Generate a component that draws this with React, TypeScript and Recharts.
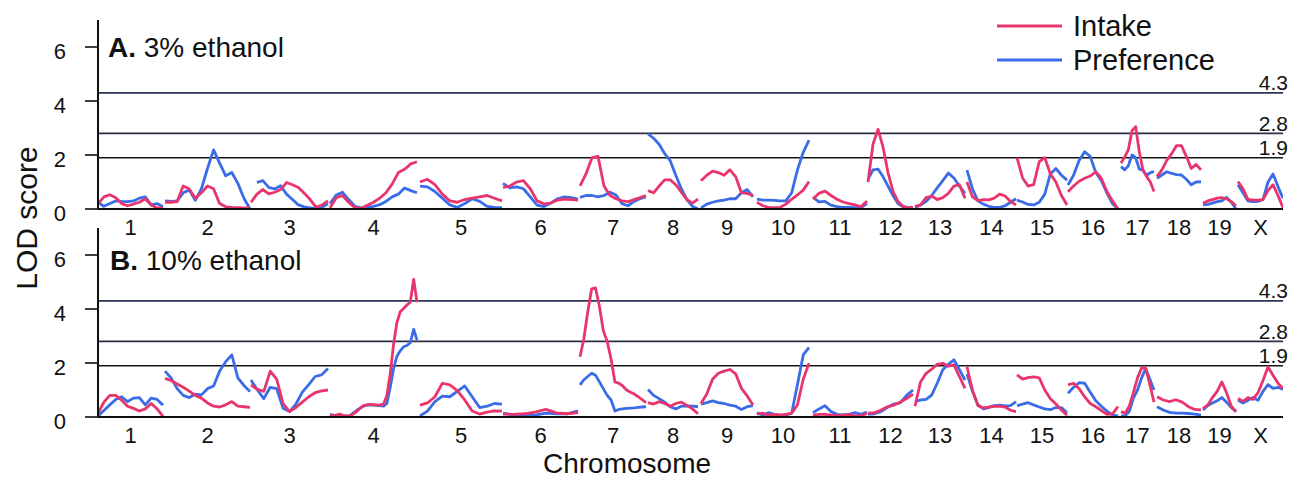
import React from "react";
import { LineChart, Line, XAxis, YAxis, ReferenceLine, Legend } from "recharts";

const FONT = '"Liberation Sans", Arial, Helvetica, sans-serif';
const RED = "#E8356B";
const BLUE = "#3A6CE8";
const INK = "#111111";

// chromosome layout along the genome axis (cM-like units)
const chromosomes = ["1", "2", "3", "4", "5", "6", "7", "8", "9", "10", "11", "12", "13", "14", "15", "16", "17", "18", "19", "X"];
const chromStart = [0, 67, 153, 232, 322, 405, 482, 550, 603, 659, 715, 770, 817, 869, 919, 970, 1023, 1059, 1105, 1140];
const chromEnd = [65, 152, 230, 319, 404, 480, 548, 600, 655, 711, 769, 815, 867, 918, 969, 1020, 1056, 1103, 1138, 1185];

const thresholds = [4.3, 2.8, 1.9];
const yTicks = [0, 2, 4, 6];

// LOD scores per chromosome, evenly spaced along each chromosome
const intake3 = [
  [0.19, 0.45, 0.53, 0.42, 0.2, 0.12, 0.18, 0.25, 0.38, 0.15, 0.04, 0.04],
  [0.25, 0.25, 0.27, 0.85, 0.74, 0.4, 0.6, 0.85, 0.75, 0.2, 0.08, 0.06, 0.05, 0.04, 0.04],
  [0.25, 0.55, 0.72, 0.56, 0.62, 0.72, 0.98, 0.9, 0.8, 0.58, 0.35, 0.06, 0.15, 0.3],
  [0.04, 0.42, 0.5, 0.25, 0.05, 0.02, 0.14, 0.25, 0.4, 0.6, 0.92, 1.35, 1.47, 1.67, 1.75],
  [1.0, 1.1, 0.9, 0.55, 0.3, 0.25, 0.35, 0.4, 0.45, 0.5, 0.4, 0.3],
  [0.8, 0.85, 1.0, 1.05, 0.75, 0.3, 0.19, 0.22, 0.33, 0.37, 0.35, 0.33],
  [0.86, 1.3, 1.9, 1.95, 0.85, 0.5, 0.38, 0.3, 0.27, 0.35, 0.42, 0.5],
  [0.68, 0.6, 0.85, 1.08, 1.08, 0.9, 0.62, 0.35, 0.22, 0.37],
  [1.05, 1.25, 1.4, 1.35, 1.25, 1.45, 1.2, 0.6, 0.58, 0.5],
  [0.25, 0.12, 0.06, 0.05, 0.06, 0.18, 0.36, 0.52, 0.7, 1.02],
  [0.37, 0.58, 0.66, 0.5, 0.36, 0.26, 0.2, 0.15, 0.08, 0.3],
  [1.0, 2.4, 2.95, 2.3, 1.35, 0.65, 0.28, 0.1, 0.05, 0.05],
  [0.09, 0.15, 0.42, 0.48, 0.35, 0.42, 0.58, 0.85, 0.9, 0.4],
  [1.0, 0.45, 0.31, 0.35, 0.34, 0.4, 0.55, 0.48, 0.28, 0.15],
  [1.9, 1.15, 0.85, 0.9, 1.75, 1.9, 1.3, 1.0, 0.5, 0.15],
  [0.64, 0.85, 1.03, 1.14, 1.22, 1.38, 1.14, 0.65, 0.3, 0.0],
  [1.7, 1.92, 2.19, 2.9, 3.05, 2.1, 1.44, 1.2, 1.0, 0.65],
  [1.2, 1.45, 1.8, 2.05, 2.35, 2.35, 1.95, 1.5, 1.65, 1.45],
  [0.21, 0.3, 0.35, 0.4, 0.42, 0.38, 0.28, 0.12],
  [1.02, 0.75, 0.36, 0.33, 0.33, 0.35, 0.68, 0.9, 0.5, 0.05],
];

const preference3 = [
  [0.25, 0.1, 0.2, 0.3, 0.28, 0.27, 0.3, 0.4, 0.45, 0.15, 0.2, 0.08],
  [0.3, 0.28, 0.3, 0.6, 0.7, 0.32, 0.75, 1.5, 2.19, 1.7, 1.23, 1.35, 0.95, 0.4, 0.0],
  [null, 0.98, 1.05, 0.8, 0.74, 0.86, 0.55, 0.35, 0.15, 0.08, 0.04, 0.03, 0.06, 0.2],
  [0.2, 0.52, 0.62, 0.35, 0.1, 0.04, 0.06, 0.1, 0.16, 0.28, 0.45, 0.55, 0.78, 0.68, 0.6],
  [0.85, 0.82, 0.65, 0.4, 0.15, 0.06, 0.2, 0.38, 0.28, 0.1, 0.06, 0.05],
  [0.95, 0.78, 0.82, 0.75, 0.45, 0.14, 0.09, 0.22, 0.38, 0.45, 0.42, 0.37],
  [0.43, 0.5, 0.5, 0.45, 0.5, 0.62, 0.52, 0.2, 0.12, 0.28, 0.38, 0.45],
  [2.78, 2.62, 2.4, 2.05, 1.79, 1.25, 0.75, 0.35, 0.1, 0.0],
  [0.04, 0.18, 0.25, 0.3, 0.33, 0.38, 0.38, 0.6, 0.72, 0.45],
  [0.37, 0.33, 0.33, 0.32, 0.3, 0.3, 0.6, 1.45, 2.1, 2.55],
  [0.43, 0.26, 0.28, 0.14, 0.09, 0.06, 0.06, 0.05, 0.05, 0.2],
  [1.1, 1.45, 1.48, 1.2, 0.85, 0.5, 0.2, 0.08, 0.05, 0.06],
  [0.06, 0.15, 0.28, 0.5, 0.78, 1.05, 1.33, 1.15, 0.85, 0.58],
  [1.44, 0.75, 0.3, 0.18, 0.1, 0.06, 0.06, 0.12, 0.25, 0.38],
  [0.33, 0.26, 0.17, 0.15, 0.25, 0.55, 1.3, 1.5, 1.25, 1.07],
  [0.89, 1.25, 1.8, 2.12, 1.95, 1.35, 1.05, 0.6, 0.2, 0.0],
  [1.57, 1.45, 1.6, 2.0, 1.9, 1.48, 1.44, 1.25, 1.35, 1.38],
  [1.14, 1.26, 1.38, 1.32, 1.27, 1.26, 1.1, 0.9, 1.0, 1.01],
  [0.15, 0.17, 0.22, 0.27, 0.3, 0.43, 0.25, 0.0],
  [0.9, 0.6, 0.3, 0.27, 0.28, 0.35, 1.0, 1.3, 0.83, 0.4],
];

const intake10 = [
  [0.14, 0.55, 0.8, 0.8, 0.62, 0.4, 0.32, 0.22, 0.3, 0.5, 0.3, 0.02],
  [1.43, 1.35, 1.22, 1.1, 0.96, 0.8, 0.7, 0.52, 0.4, 0.37, 0.45, 0.57, 0.4, 0.38, 0.36],
  [1.19, 1.02, 0.95, 1.7, 1.4, 0.5, 0.2, 0.35, 0.55, 0.75, 0.9, 0.97, 1.0],
  [0.07, 0.04, 0.08, 0.11, 0.05, 0.04, 0.05, 0.12, 0.2, 0.32, 0.42, 0.45, 0.47, 0.46, 0.44, 0.45, 0.48, 0.8, 1.6, 2.7, 3.5, 3.9, 4.02, 4.15, 4.25, 5.1, 4.25],
  [0.44, 0.52, 0.75, 1.25, 1.19, 0.98, 0.63, 0.22, 0.11, 0.18, 0.23, 0.22],
  [0.11, 0.1, 0.12, 0.18, 0.28, 0.15, 0.12, 0.16],
  [2.23, 2.9, 3.9, 4.75, 4.78, 4.1, 3.2, 2.8, 2.15, 1.3, 1.25, 1.15, 1.0, 0.92, 0.85, 0.75, 0.64, 0.53],
  [0.53, 0.48, 0.57, 0.5, 0.4, 0.5, 0.55, 0.43, 0.3, 0.12],
  [0.5, 0.85, 1.4, 1.62, 1.7, 1.76, 1.6, 1.06, 0.78, 0.44],
  [0.11, 0.14, 0.07, 0.1, 0.07, 0.1, 0.14, 0.45, 1.4, 1.99],
  [0.07, 0.1, 0.1, 0.07, 0.05, 0.07, 0.1, 0.04, 0.05, 0.13],
  [0.14, 0.16, 0.25, 0.38, 0.44, 0.55, 0.68, 0.85],
  [0.4, 1.3, 1.62, 1.77, 1.95, 1.99, 1.88, 1.93, 1.5, 1.06],
  [1.86, 1.0, 0.42, 0.34, 0.37, 0.39, 0.4, 0.37, 0.25, 0.2],
  [1.56, 1.4, 1.46, 1.49, 1.45, 1.0, 0.68, 0.48, 0.26, 0.07],
  [1.19, 1.25, 1.05, 0.75, 0.5, 0.38, 0.24, 0.1, 0.12, 0.38],
  [0.2, 0.14, 0.4, 0.9, 1.45, 1.82, 1.8, 1.2, 0.55],
  [0.75, 0.63, 0.57, 0.64, 0.55, 0.38, 0.28, 0.26],
  [0.32, 0.44, 0.72, 0.95, 1.3, 0.9, 0.4, 0.2],
  [0.69, 0.58, 0.72, 0.65, 0.9, 1.35, 1.85, 1.55, 1.25, 1.05],
];

const preference10 = [
  [0.04, 0.24, 0.45, 0.65, 0.75, 0.57, 0.7, 0.72, 0.45, 0.7, 0.65, 0.44],
  [1.7, 1.45, 1.05, 0.8, 0.72, 0.85, 0.82, 1.05, 1.15, 1.7, 2.05, 2.3, 1.45, 1.17, 0.94],
  [1.37, 1.0, 0.68, 1.1, 1.05, 0.32, 0.2, 0.48, 0.92, 1.2, 1.5, 1.56, 1.8],
  [0.1, 0.07, 0.05, 0.04, 0.04, 0.04, 0.05, 0.15, 0.25, 0.33, 0.4, 0.44, 0.44, 0.44, 0.43, 0.42, 0.4, 0.5, 1.1, 1.8, 2.25, 2.45, 2.6, 2.65, 2.75, 3.25, 2.85],
  [0.04, 0.22, 0.57, 0.77, 0.75, 0.95, 1.15, 0.75, 0.35, 0.4, 0.5, 0.48],
  [0.14, 0.07, 0.06, 0.07, 0.14, 0.12, 0.12, 0.23],
  [1.19, 1.38, 1.5, 1.62, 1.55, 1.3, 1.05, 0.8, 0.63, 0.22, 0.28, 0.3, 0.32, 0.33, 0.34, 0.36, 0.37, 0.38],
  [1.02, 0.8, 0.68, 0.55, 0.38, 0.3, 0.4, 0.41, 0.4, 0.38],
  [0.48, 0.53, 0.6, 0.53, 0.5, 0.44, 0.4, 0.28, 0.38, 0.42],
  [0.16, 0.07, 0.16, 0.1, 0.07, 0.07, 0.14, 1.2, 2.3, 2.58],
  [0.16, 0.3, 0.42, 0.2, 0.1, 0.08, 0.1, 0.16, 0.1, 0.18],
  [0.1, 0.12, 0.2, 0.35, 0.48, 0.52, 0.8, 1.0],
  [0.57, 0.63, 0.65, 0.81, 1.25, 1.75, 1.95, 2.12, 1.75, 1.37],
  [1.6, 0.95, 0.45, 0.3, 0.35, 0.42, 0.44, 0.41, 0.42, 0.57],
  [0.41, 0.48, 0.53, 0.45, 0.37, 0.3, 0.27, 0.35, 0.35, 0.16],
  [0.88, 1.1, 1.27, 1.25, 0.92, 0.6, 0.4, 0.22, 0.08, 0.04],
  [0.04, 0.05, 0.2, 0.7, 1.0, 1.45, 1.8, 1.4, 1.0],
  [0.38, 0.26, 0.17, 0.14, 0.14, 0.13, 0.11, 0.07],
  [0.26, 0.42, 0.52, 0.6, 0.72, 0.55, 0.35, 0.2],
  [0.63, 0.52, 0.62, 0.72, 0.62, 0.95, 1.2, 1.06, 1.1, 1.02],
];

// spread each chromosome's values over its span, with a break after each
function toPoints(segments: (number | null)[][]) {
  const pts: { x: number; lod: number | null }[] = [];
  segments.forEach((vals, i) => {
    const s = chromStart[i];
    const e = chromEnd[i];
    vals.forEach((v, j) => pts.push({ x: s + (j * (e - s)) / (vals.length - 1), lod: v }));
    pts.push({ x: e + 0.5, lod: null });
  });
  return pts;
}

const chromMid = chromStart.map((s, i) => (s + chromEnd[i]) / 2);

const XTick = ({ x, y, payload }: any) => {
  const idx = chromMid.indexOf(payload.value);
  return (
    <text x={x} y={y} dy="0.71em" textAnchor="middle" fontSize={22} fontFamily={FONT} fill={INK}>
      {chromosomes[idx]}
    </text>
  );
};

const YTick = ({ x, y, payload }: any) => (
  <text x={x} y={y + 4} dy="0.355em" textAnchor="end" fontSize={22} fontFamily={FONT} fill={INK}>
    {payload.value}
  </text>
);

const ThresholdLabel = ({ viewBox, labelText }: any) => (
  <text
    x={viewBox.x + viewBox.width + 5}
    y={viewBox.y - 2.5}
    textAnchor="end"
    fontSize={21}
    fontFamily={FONT}
    fill={INK}
  >
    {labelText}
  </text>
);

const LegendContent = ({ payload }: any) => {
  const order = ["Intake", "Preference"];
  const items = [...(payload || [])].sort((a, b) => order.indexOf(a.value) - order.indexOf(b.value));
  return (
    <div style={{ fontFamily: FONT, fontSize: 29, lineHeight: "34px", color: INK }}>
      {items.map((it: any) => (
        <div key={it.value} style={{ display: "flex", alignItems: "center", height: 34 }}>
          <svg width={76} height={34}>
            <line x1={0} x2={65} y1={17} y2={17} stroke={it.color} strokeWidth={2.8} />
          </svg>
          <span>{it.value}</span>
        </div>
      ))}
    </div>
  );
};

const lineColors = ["#2b3558", "#2a2f45", "#151515"];

function Panel({ intake, preference, top, height, legend }: any) {
  return (
    <div style={{ position: "absolute", left: 0, top }}>
      <LineChart width={1290} height={height} margin={{ top: 20, right: 7, left: 38, bottom: 0 }}>
        <XAxis
          type="number"
          dataKey="x"
          domain={[0, 1185]}
          ticks={chromMid}
          interval={0}
          allowDataOverflow
          height={height - 209}
          tickLine={false}
          tickMargin={4}
          axisLine={{ stroke: INK, strokeWidth: 2 }}
          tick={<XTick />}
        />
        <YAxis
          type="number"
          domain={[0, 7]}
          ticks={yTicks}
          width={60}
          tickSize={13}
          tickMargin={19}
          axisLine={{ stroke: INK, strokeWidth: 2 }}
          tickLine={{ stroke: INK, strokeWidth: 1.6 }}
          tick={<YTick />}
        />
        {thresholds.map((t, i) => (
          <ReferenceLine
            key={t}
            y={t}
            stroke={lineColors[i]}
            strokeWidth={1.6}
            label={<ThresholdLabel labelText={t.toFixed(1)} />}
          />
        ))}
        <Line
          data={toPoints(preference)}
          dataKey="lod"
          name="Preference"
          type="linear"
          stroke={BLUE}
          strokeWidth={2.8}
          strokeLinejoin="round"
          dot={false}
          connectNulls={false}
          isAnimationActive={false}
        />
        <Line
          data={toPoints(intake)}
          dataKey="lod"
          name="Intake"
          type="linear"
          stroke={RED}
          strokeWidth={2.8}
          strokeLinejoin="round"
          dot={false}
          connectNulls={false}
          isAnimationActive={false}
        />
        {legend && (
          <Legend
            layout="horizontal"
            verticalAlign="middle"
            align="center"
            width={260}
            wrapperStyle={{ left: 997, top: 9 }}
            content={<LegendContent />}
          />
        )}
      </LineChart>
    </div>
  );
}

export default function App() {
  return (
    <div style={{ position: "absolute", left: 0, top: 0, width: 1290, height: 478, background: "#fff", overflow: "hidden" }}>
      <Panel intake={intake3} preference={preference3} top={0} height={250} legend />
      <Panel intake={intake10} preference={preference10} top={208} height={270} />
      <svg
        width={1290}
        height={478}
        style={{ position: "absolute", left: 0, top: 0, pointerEvents: "none" }}
        fontFamily={FONT}
      >
        <text x={108} y={57} fontSize={28} fill={INK}>
          <tspan fontWeight="bold">A.</tspan> 3% ethanol
        </text>
        <text x={110} y={270} fontSize={28} fill={INK}>
          <tspan fontWeight="bold">B.</tspan> 10% ethanol
        </text>
        <text x={37} y={218} fontSize={30} fill={INK} textAnchor="middle" transform="rotate(-90 37 218)">
          LOD score
        </text>
        <text x={627} y={472.5} fontSize={28} fill={INK} textAnchor="middle">
          Chromosome
        </text>
      </svg>
    </div>
  );
}
